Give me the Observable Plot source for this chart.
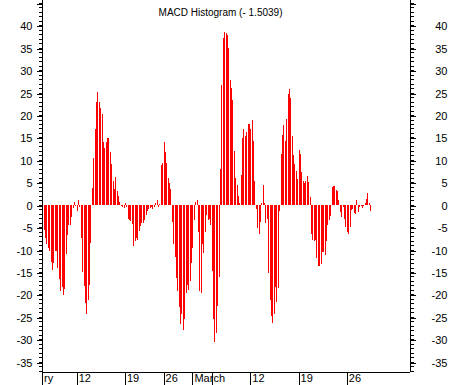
<!DOCTYPE html>
<html>
<head>
<meta charset="utf-8">
<script src="https://cdn.jsdelivr.net/npm/d3@7"></script>
<script src="https://cdn.jsdelivr.net/npm/@observablehq/plot@0.6"></script>
<style>
html, body { margin: 0; padding: 0; background: #fff; }
#chart svg { display: block; }
</style>
</head>
<body>
<div id="chart"></div>
<script>
const title = "MACD Histogram (- 1.5039)";

// MACD histogram values, one per bar (hourly bars, oldest first)
const values = [
  -1.6, -5.6, -7.5, -8.7, -9.7, -10.4, -12.8, -14.5, -13.0, -10.4,
  -10.4, -14.0, -16.6, -19.2, -18.3, -20.1, -18.8, -11.0, -6.7, -4.6,
  -4.5, -2.8, -0.7, 0.5, -0.2, -1.4, 1.0, -0.5, -7.5, -15.0,
  -18.2, -22.0, -24.4, -21.2, -17.8, -8.5, 3.7, 10.4, 16.8, 22.9,
  25.1, 22.9, 21.6, 20.2, 13.9, 12.7, 13.9, 14.9, 14.9, 11.8,
  9.0, 5.4, 3.6, 6.1, 3.0, 1.9, 0.7, -0.3, -0.5, -0.7,
  0.4, -0.4, -3.1, -3.5, -3.7, -4.4, -9.1, -8.1, -7.4, -7.8,
  -5.9, -4.8, -4.0, -4.1, -3.3, -2.4, -1.4, -1.0, -0.7, -0.4,
  -0.9, -0.5, 0.4, 1.0, -0.4, 0.2, 8.8, 9.3, 13.9, 11.8,
  9.3, 6.0, 4.9, 3.6, -3.9, -8.8, -11.7, -16.4, -19.2, -22.9,
  -26.6, -24.4, -28.0, -25.5, -19.7, -18.0, -19.0, -16.9, -13.0, -9.6,
  -3.4, 0.5, 1.0, -6.1, -19.3, -19.7, -8.7, -10.8, -6.0, -2.2,
  -3.5, -3.1, -4.6, -14.7, -25.5, -30.5, -28.5, -22.5, -16.2, 8.0,
  26.7, 37.1, 38.6, 38.4, 37.9, 34.9, 27.8, 26.0, 23.3, 11.9,
  5.9, 4.3, 1.9, 0.3, 6.6, 14.8, 16.8, 15.3, 16.3, 17.9,
  18.1, 16.8, 18.9, 14.2, 5.4, -0.9, -5.1, -6.6, -3.9, 0.4,
  4.3, 0.4, -4.0, -3.1, -15.3, -21.3, -24.8, -26.3, -24.4, -18.4,
  -21.8, -18.6, -1.3, 11.4, 15.5, 17.7, 14.2, 19.1, 24.8, 25.8,
  23.8, 15.3, 11.0, 9.0, 7.5, 5.7, 12.2, 11.4, 7.2, 5.4,
  4.8, 5.3, 6.3, 5.1, 1.7, -6.5, -7.8, -8.1, -7.8, -11.8,
  -13.6, -13.6, -13.2, -10.6, -10.6, -11.3, -8.0, -4.6, -3.5, -2.6,
  3.9, 4.1, 4.1, 3.2, 3.0, 1.0, -1.6, -2.8, -0.5, -3.1,
  -5.0, -6.1, -6.5, -5.0, -1.1, -0.9, -1.9, -2.0, 1.0, -1.6,
  -0.5, -0.3, -0.7, -0.2, 0.4, 1.3, 2.7, 0.4, -1.5039
];

// date ticks (bar index where each period starts) and their labels
const tickIndex = [-0.2, 25, 60, 88, 109, 123, 151, 186, 221];
const tickLabels = ["ry", "12", "19", "26", "March", "", "12", "19", "26"];

// y axis ticks
const yMajor = [-35, -30, -25, -20, -15, -10, -5, 0, 5, 10, 15, 20, 25, 30, 35, 40, 45];
const yLabeled = [-35, -30, -25, -20, -15, -10, -5, 0, 5, 10, 15, 20, 25, 30, 35, 40];
const yMinor = d3.range(-37, 46);

const xDomain = [-0.2, 266.9];
const yDomain = [-37.3, 45.65];

const bars = values.map((v, i) => ({ i, v }));
const xTicks = tickIndex.map((x, k) => ({ x, label: tickLabels[k] }));
const fmt = d => (yLabeled.includes(d) ? String(d) : "");
const crisp = { shapeRendering: "crispEdges" };

const chart = Plot.plot({
  width: 451,
  height: 385,
  marginTop: 0,
  marginBottom: 13,
  marginLeft: 42,
  marginRight: 41,
  x: { domain: xDomain },
  y: { domain: yDomain },
  style: {
    fontFamily: "'Liberation Sans', Arial, sans-serif",
    background: "#ffffff",
    color: "#000000"
  },
  marks: [
    Plot.ruleX(bars, { x: "i", y1: 0, y2: "v", stroke: "#ff0000", strokeWidth: 1, ...crisp }),
    Plot.ruleX([xDomain[0], xDomain[1]], { stroke: "#000", ...crisp }),
    Plot.ruleY([yDomain[0]], { stroke: "#000", ...crisp }),
    // left axis
    Plot.axisY({ anchor: "left", ticks: yMinor, tickSize: 3, tickFormat: () => "", label: null, ...crisp }),
    Plot.axisY({ anchor: "left", ticks: yMajor, tickSize: 5, tickPadding: 5, tickFormat: fmt, fontSize: 11, dy: 1, label: null, ...crisp }),
    // right axis
    Plot.axisY({ anchor: "right", ticks: yMinor, tickSize: 3, tickFormat: () => "", label: null, ...crisp }),
    Plot.axisY({ anchor: "right", ticks: yMajor, tickSize: 5, tickPadding: 32, textAnchor: "end", tickFormat: fmt, fontSize: 11, dy: 1, label: null, ...crisp }),
    // bottom date axis: long tick lines with labels to their right
    Plot.axisX({ anchor: "bottom", ticks: tickIndex, tickSize: 13, tickFormat: () => "", label: null, ...crisp }),
    Plot.text(xTicks, { x: "x", text: "label", frameAnchor: "bottom", dy: 9, dx: 1.5, textAnchor: "start", fontSize: 11 }),
    // title
    Plot.text([title], { frameAnchor: "top", dy: 8, dx: -6, fontSize: 10 })
  ]
});

document.getElementById("chart").appendChild(chart);
</script>
</body>
</html>
